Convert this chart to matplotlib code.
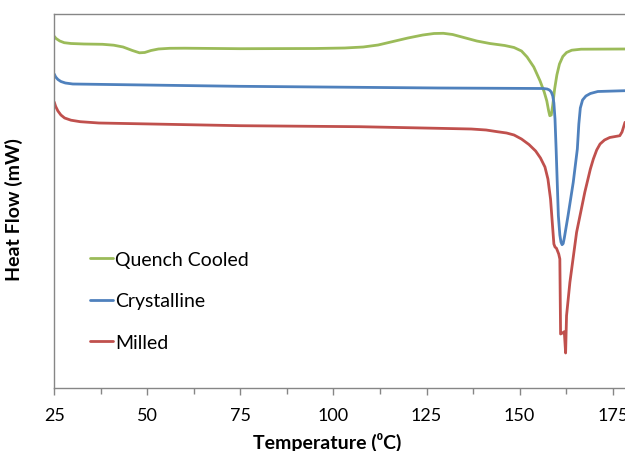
import matplotlib
matplotlib.use('Agg')
import matplotlib.pyplot as plt
from matplotlib.ticker import MultipleLocator

# temperature (C) and heat flow (arbitrary, no scale shown)
quench_t = [25.0, 25.5, 26.5, 27.7, 29.5, 33.0, 38.0, 41.0, 43.5, 46.0, 47.9, 49.3,
            51.0, 53.0, 56.0, 60.0, 75.0, 95.0, 103.0, 108.0, 112.0, 116.0, 120.0,
            124.0, 127.0, 129.5, 132.0, 135.0, 138.5, 142.0, 146.0, 148.5, 150.5,
            152.0, 153.8, 155.5, 156.6, 157.3, 157.8, 158.1, 158.5, 158.9, 159.4,
            160.0, 160.7, 161.6, 162.6, 164.0, 166.5, 178.3]
quench_hf = [-3.73, -3.95, -4.2, -4.37, -4.45, -4.5, -4.53, -4.62, -4.8, -5.15, -5.38, -5.35,
             -5.15, -5.0, -4.93, -4.92, -4.97, -4.95, -4.9, -4.8, -4.6, -4.25, -3.9,
             -3.6, -3.45, -3.43, -3.55, -3.85, -4.2, -4.45, -4.65, -4.85, -5.2,
             -5.8, -6.8, -8.2, -9.3, -10.2, -11.2, -11.67, -11.6, -10.6, -9.0,
             -7.6, -6.5, -5.75, -5.35, -5.12, -5.02, -5.0]

cryst_t = [25.0, 25.4, 26.0, 26.8, 28.0, 30.0, 74.6, 128.2, 156.3, 157.4, 158.0,
           158.5, 158.9, 159.2, 159.5, 159.8, 160.4, 160.8, 161.1, 161.4, 161.7,
           162.0, 163.0, 164.4, 165.5, 165.9, 166.3, 166.9, 167.8, 169.0, 171.0,
           178.3]
cryst_hf = [-7.5, -7.8, -8.05, -8.25, -8.4, -8.5, -8.73, -8.9, -8.95, -9.0, -9.1,
            -9.3, -9.7, -10.4, -12.0, -15.0, -21.67, -23.6, -24.3, -24.57, -24.45,
            -23.9, -21.67, -18.33, -15.0, -12.5, -10.9, -10.1, -9.7, -9.45, -9.25,
            -9.17]

milled_t = [25.0, 25.4, 26.0, 26.8, 27.8, 29.5, 32.0, 37.0, 75.0, 107.0, 128.0,
            137.0, 141.0, 144.0, 146.5, 148.5, 150.5, 152.5, 154.3, 155.6, 156.8,
            157.6, 158.3, 158.8, 159.2, 159.5, 159.9, 160.5, 160.8, 161.0, 161.5,
            162.0, 162.35, 162.6, 163.5, 165.3, 167.5, 169.0, 169.8, 170.7, 171.6,
            172.8, 174.2, 176.9, 177.5, 178.3]
milled_hf = [-10.3, -10.75, -11.2, -11.6, -11.9, -12.12, -12.27, -12.4, -12.67, -12.77, -12.93,
             -13.0, -13.1, -13.27, -13.4, -13.6, -14.0, -14.55, -15.2, -15.9, -16.8,
             -18.0, -20.0, -22.5, -24.5, -24.8, -24.93, -25.5, -26.0, -33.5, -33.4,
             -33.27, -35.4, -31.67, -28.33, -23.33, -19.33, -17.0, -16.0, -15.1, -14.5,
             -14.1, -13.85, -13.67, -13.3, -12.33]

labels = ['Quench Cooled', 'Crystalline', 'Milled']
colors = ['#9BBB59', '#4F81BD', '#C0504D']


def main():
	plt.rcParams['font.family'] = ['Lato', 'DejaVu Sans']
	fig = plt.figure(figsize=(6.25, 4.52), dpi=100)
	ax = fig.add_axes([54.2 / 625, 63 / 452, 1 - 54.2 / 625, 374 / 452])

	series = [(quench_t, quench_hf), (cryst_t, cryst_hf), (milled_t, milled_hf)]
	for (t, hf), lab, c in zip(series, labels, colors):
		ax.plot(t, hf, color=c, lw=2.0, label=lab, solid_joinstyle='round',
		        solid_capstyle='round')

	ax.set_xlim(25, 178.3)
	ax.set_ylim(-38.9, -1.5)
	ax.xaxis.set_major_locator(MultipleLocator(25))
	ax.xaxis.set_minor_locator(MultipleLocator(12.5))
	ax.tick_params(axis='x', which='major', direction='out', length=5, width=1,
	               color='#868686', labelsize=13, pad=9)
	ax.tick_params(axis='x', which='minor', direction='out', length=4, width=1,
	               color='#868686')
	ax.set_yticks([])
	for side in ['left', 'top', 'bottom']:
		ax.spines[side].set_color('#868686')
		ax.spines[side].set_linewidth(1)
	ax.spines['right'].set_visible(False)

	ax.set_xlabel('Temperature (\u2070C)', fontsize=14, fontweight='bold')
	ax.xaxis.set_label_coords((327 - 54.2) / 570.8, -0.118)
	ax.set_ylabel('Heat Flow (mW)', fontsize=14, fontweight='bold')
	ax.yaxis.set_label_coords(-0.055, 0.479)

	ax.legend(loc='center left', bbox_to_anchor=(0.063, 0.233), frameon=False,
	          fontsize=14, handlelength=1.2, handletextpad=0.1, labelspacing=1.25,
	          borderpad=0, borderaxespad=0)

	fig.savefig('out.png', dpi=100)


if __name__ == '__main__':
	main()
